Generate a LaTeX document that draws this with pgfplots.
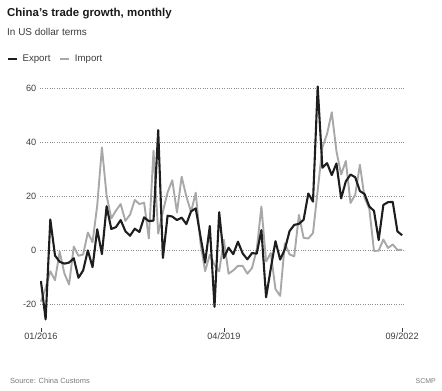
\documentclass[border=0pt]{standalone}
\usepackage{fontspec}
\setmainfont{Liberation Sans}
\usepackage{pgfplots}
\usepackage{pgfplotstable}
\pgfplotsset{compat=1.18}
\definecolor{expc}{HTML}{1E1E1E}
\definecolor{impc}{HTML}{A8A8A8}
\definecolor{gridc}{HTML}{8C8C8C}
\definecolor{tickc}{HTML}{3C3C3C}
\definecolor{srcc}{HTML}{7A7A7A}
% idx: 0 = 01/2016 ... 47 = 12/2019, then Jan-Feb combined each year from 2020
\pgfplotstableread{
idx export import
0 -11.2 -18.8
1 -25.4 -13.8
2 11.5 -7.6
3 -1.8 -10.9
4 -4.1 -0.4
5 -4.8 -8.4
6 -4.4 -12.5
7 -2.8 1.5
8 -10.0 -1.9
9 -7.3 -1.4
10 0.1 6.7
11 -6.1 3.1
12 7.9 16.7
13 -1.3 38.1
14 16.4 20.3
15 8.0 11.9
16 8.7 14.8
17 11.3 17.2
18 7.2 11.0
19 5.5 13.3
20 8.1 18.7
21 6.9 17.2
22 12.3 17.7
23 10.9 4.5
24 11.1 36.9
25 44.5 6.3
26 -2.7 14.4
27 12.9 21.5
28 12.6 26.0
29 11.3 14.1
30 12.2 27.3
31 9.8 20.0
32 14.5 14.3
33 15.6 21.4
34 5.4 3.0
35 -4.4 -7.6
36 9.1 -1.5
37 -20.7 -5.2
38 14.2 -7.6
39 -2.7 4.0
40 1.1 -8.5
41 -1.3 -7.3
42 3.3 -5.6
43 -1.0 -5.6
44 -3.2 -8.5
45 -0.9 -6.4
46 -1.1 0.3
47 7.6 16.3
48 -17.2 -4.0
49 -6.6 -0.9
50 3.5 -14.2
51 -3.3 -16.7
52 0.5 2.7
53 7.2 -1.4
54 9.5 -2.1
55 9.9 13.2
56 11.4 4.7
57 21.1 4.5
58 18.1 6.5
59 60.6 22.2
60 30.6 38.1
61 32.3 43.1
62 27.9 51.1
63 32.2 36.7
64 19.3 28.1
65 25.6 33.1
66 28.1 17.6
67 27.1 20.6
68 22.0 31.7
69 20.9 19.5
70 16.3 15.5
71 14.7 -0.1
72 3.9 0.0
73 16.9 4.1
74 17.9 1.0
75 18.0 2.3
76 7.1 0.3
77 5.7 0.3
}\trade
\begin{document}
\begin{tikzpicture}
\path[use as bounding box] (0,0) rectangle (442bp,-391bp);
\node[anchor=base west, inner sep=0pt, font=\fontsize{11.5}{13}\selectfont\bfseries, text=black!90] at (7bp,-16.7bp) {China's trade growth, monthly};
\node[anchor=base west, inner sep=0pt, font=\fontsize{10}{11}\selectfont, text=tickc] at (7bp,-35.7bp) {In US dollar terms};
\node[anchor=base west, inner sep=0pt, font=\fontsize{7.5}{9}\selectfont, text=srcc] at (10bp,-383bp) {Source: China Customs};
\node[anchor=base east, inner sep=0pt, font=\fontsize{7}{9}\selectfont, text=srcc] at (436bp,-383bp) {SCMP};
\begin{axis}[
  at={(40bp,-328.4bp)}, anchor=south west,
  scale only axis, width=364bp, height=245.7bp,
  xmin=-0.2, xmax=77.4, ymin=-28.7, ymax=62,
  axis x line*=bottom, axis y line*=left,
  axis line style={draw=none},
  xtick={0,39,77}, xticklabels={01/2016,04/2019,09/2022},
  ytick={-20,0,20,40,60},
  ymajorgrids, grid style={dotted, color=gridc, line width=0.8bp},
  ytick style={draw=none},
  xtick style={color=tickc, line width=0.6bp},
  major tick length=3.5bp, tick align=outside,
  tick label style={font=\fontsize{9.2}{10}\selectfont, text=tickc},
  yticklabel style={inner sep=0pt},
  xticklabel style={inner sep=0pt, yshift=-1bp},
  /pgf/number format/assume math mode=true,
  legend columns=2, reverse legend,
  legend style={at={(-0.0907,1.0965)}, anchor=west, draw=none, fill=none,
    inner sep=0pt, outer sep=0pt, font=\fontsize{9.7}{11}\selectfont, text=tickc,
    nodes={inner sep=0pt},
    /tikz/every odd column/.append style={column sep=4.5bp},
    /tikz/every even column/.append style={column sep=9bp}},
  legend image code/.code={\draw[#1, line cap=butt] (0bp,0bp) -- (9bp,0bp);},
]
\addplot[impc, line width=1.9bp, line join=round] table[x=idx, y=import] {\trade};
\addlegendentry{Import}
\addplot[expc, line width=2.1bp, line join=round] table[x=idx, y=export] {\trade};
\addlegendentry{Export}
\end{axis}
\end{tikzpicture}
\end{document}
